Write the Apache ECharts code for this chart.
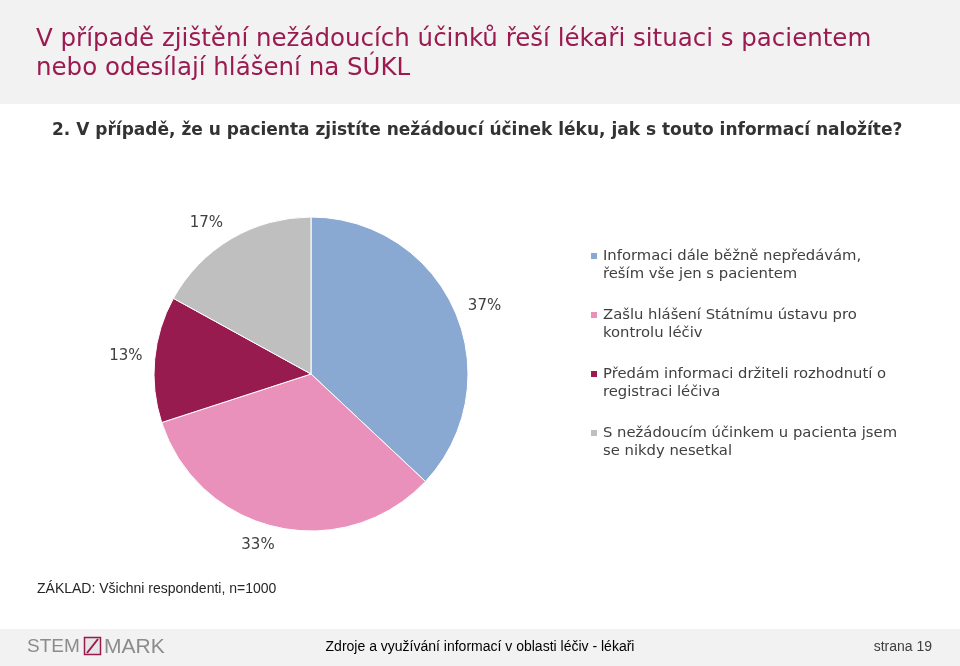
<!DOCTYPE html>
<html>
<head>
<meta charset="utf-8">
<script src="https://cdn.jsdelivr.net/npm/echarts@6/dist/echarts.min.js"></script>
<style>html,body{margin:0;padding:0;background:#fff}#c{width:960px;height:666px}</style>
</head>
<body>
<div id="c"></div>
<script>
var categories = [
  'Informaci dále běžně nepředávám,\nřeším vše jen s pacientem',
  'Zašlu hlášení Státnímu ústavu pro\nkontrolu léčiv',
  'Předám informaci držiteli rozhodnutí o\nregistraci léčiva',
  'S nežádoucím účinkem u pacienta jsem\nse nikdy nesetkal'
];
var values = [37, 33, 13, 17];
var colors = ['#89A8D2', '#EA91BB', '#981B4F', '#BFBFBF'];
var labelOffsets = [[1, 7], [-12, -12], [2, 0], [-9, 11]];

var chart = echarts.init(document.getElementById('c'));
var pieData = categories.map(function (n, i) { return { name: n, value: values[i], itemStyle: { color: colors[i] } }; });
var labelData = categories.map(function (n, i) { return { name: n, value: values[i], label: { offset: labelOffsets[i] } }; });

chart.setOption({
  animation: false,
  backgroundColor: '#fff',
  graphic: [
    { type: 'rect', shape: { x: 0, y: 0, width: 960, height: 104 }, style: { fill: '#F2F2F2' }, z: -10 },
    { type: 'rect', shape: { x: 0, y: 629, width: 960, height: 37 }, style: { fill: '#F2F2F2' }, z: -10 },
    { type: 'text', x: 36, y: 40, style: { text: 'V případě zjištění nežádoucích účinků řeší lékaři situaci s pacientem', font: '24.5px "DejaVu Sans"', fill: '#9B1B50', verticalAlign: 'middle' } },
    { type: 'text', x: 36, y: 69, style: { text: 'nebo odesílají hlášení na SÚKL', font: '24.5px "DejaVu Sans"', fill: '#9B1B50', verticalAlign: 'middle' } },
    { type: 'text', x: 52, y: 131, style: { text: '2. V případě, že u pacienta zjistíte nežádoucí účinek léku, jak s touto informací naložíte?', font: 'bold 17px "DejaVu Sans"', fill: '#333333', verticalAlign: 'middle' } },
    { type: 'text', x: 37, y: 589, style: { text: 'ZÁKLAD: Všichni respondenti, n=1000', font: '14px "Liberation Sans"', fill: '#262626', verticalAlign: 'middle' } },
    { type: 'text', x: 27, y: 647, style: { text: 'STEM', font: '19px "Liberation Sans"', fill: '#8C8C8C', verticalAlign: 'middle' } },
    { type: 'rect', shape: { x: 84.5, y: 637.5, width: 16, height: 17 }, style: { fill: '#E6E6E6', stroke: '#981B4F', lineWidth: 1.5 } },
    { type: 'line', shape: { x1: 87, y1: 653, x2: 98, y2: 639 }, style: { stroke: '#981B4F', lineWidth: 2 } },
    { type: 'text', x: 104, y: 647, style: { text: 'MARK', font: '21px "Liberation Sans"', fill: '#8C8C8C', verticalAlign: 'middle' } },
    { type: 'text', x: 480, y: 647, style: { text: 'Zdroje a využívání informací v oblasti léčiv - lékaři', font: '14px "Liberation Sans"', fill: '#000', align: 'center', verticalAlign: 'middle' } },
    { type: 'text', x: 932, y: 647, style: { text: 'strana 19', font: '14px "Liberation Sans"', fill: '#404040', align: 'right', verticalAlign: 'middle' } }
  ],
  legend: {
    orient: 'vertical',
    left: 589,
    top: 229,
    padding: 0,
    itemWidth: 8,
    itemHeight: 8,
    itemGap: 5,
    icon: 'rect',
    selectedMode: false,
    formatter: function (n) { return '\n' + n; },
    textStyle: { fontFamily: 'DejaVu Sans', fontSize: 14.8, color: '#404040', lineHeight: 18 },
    data: categories
  },
  series: [
    {
      type: 'pie',
      center: [311, 374],
      radius: 157,
      startAngle: 90,
      clockwise: true,
      itemStyle: { borderColor: '#fff', borderWidth: 1 },
      label: { show: false },
      labelLine: { show: false },
      emphasis: { disabled: true },
      data: pieData
    },
    {
      type: 'pie',
      center: [311, 374],
      radius: [158, 212],
      startAngle: 90,
      clockwise: true,
      silent: true,
      itemStyle: { color: 'rgba(0,0,0,0)' },
      label: { show: true, position: 'inside', formatter: '{c}%', fontFamily: 'DejaVu Sans', fontSize: 15, color: '#404040' },
      labelLine: { show: false },
      emphasis: { disabled: true },
      data: labelData
    }
  ]
});
</script>
</body>
</html>
